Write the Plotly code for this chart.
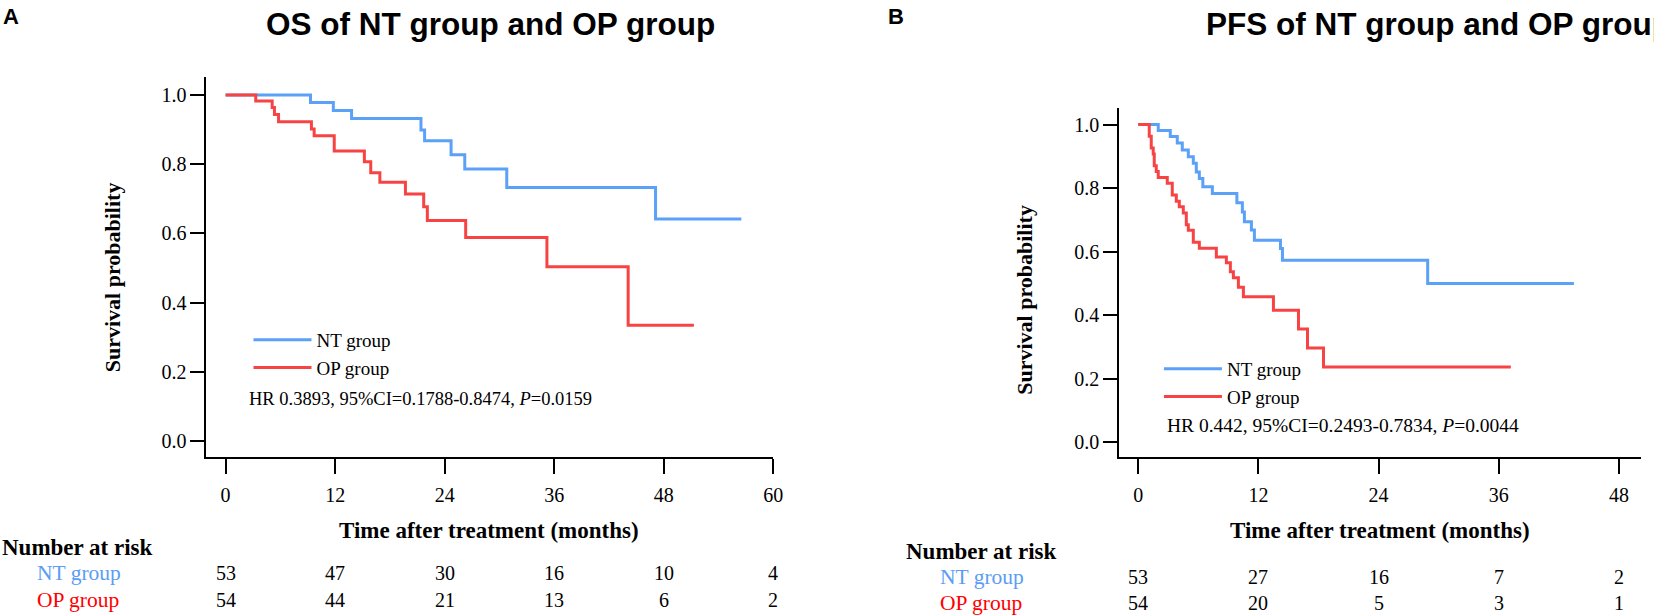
import plotly.graph_objects as go

# Kaplan-Meier steps (months, survival probability)
nt_os_time = [0, 9.3, 11.8, 13.8, 21.4, 21.8, 24.7, 26.2, 30.8, 47.1, 56.5]
nt_os_surv = [1.0, 0.978, 0.955, 0.932, 0.899, 0.868, 0.827, 0.786, 0.733, 0.642, 0.642]
op_os_time = [0, 3.3, 5.1, 5.35, 5.8, 9.4, 9.7, 11.9, 15.2, 15.9, 16.9, 19.7, 21.7, 22.1, 26.3, 35.2, 44.1, 51.3]
op_os_surv = [1.0, 0.983, 0.964, 0.944, 0.923, 0.902, 0.882, 0.838, 0.807, 0.775, 0.748, 0.714, 0.677, 0.637,
              0.588, 0.504, 0.335, 0.335]

nt_pfs_time = [0, 2.0, 3.2, 3.9, 4.4, 5.0, 5.5, 5.8, 6.1, 6.45, 7.4, 9.85, 10.4, 10.6, 11.3, 11.6, 14.2, 14.4,
               28.9, 43.5]
nt_pfs_surv = [1.0, 0.981, 0.962, 0.942, 0.92, 0.899, 0.878, 0.851, 0.83, 0.804, 0.783, 0.754, 0.725, 0.694,
               0.668, 0.636, 0.61, 0.573, 0.5, 0.5]
op_pfs_time = [0, 1.1, 1.3, 1.5, 1.6, 1.8, 2.0, 2.9, 3.4, 3.8, 4.1, 4.5, 4.8, 5.0, 5.5, 6.1, 7.8, 8.8, 9.2, 9.5,
               10.0, 10.5, 13.5, 16.0, 16.9, 18.5, 37.2]
op_pfs_surv = [1.0, 0.963, 0.926, 0.907, 0.87, 0.852, 0.833, 0.815, 0.778, 0.759, 0.741, 0.722, 0.685, 0.667,
               0.63, 0.611, 0.583, 0.565, 0.537, 0.518, 0.488, 0.458, 0.416, 0.357, 0.297, 0.237, 0.237]

# number at risk tables
os_risk_times = [0, 12, 24, 36, 48, 60]
os_risk_nt = [53, 47, 30, 16, 10, 4]
os_risk_op = [54, 44, 21, 13, 6, 2]
pfs_risk_times = [0, 12, 24, 36, 48]
pfs_risk_nt = [53, 27, 16, 7, 2]
pfs_risk_op = [54, 20, 5, 3, 1]

group_names = ["NT group", "OP group"]
os_title = "OS of NT group and OP group"
pfs_title = "PFS of NT group and OP group"
os_hr = "HR 0.3893, 95%CI=0.1788-0.8474, <i>P</i>=0.0159"
pfs_hr = "HR 0.442, 95%CI=0.2493-0.7834, <i>P</i>=0.0044"

W, H = 1654, 616
BLUE = "#5AA1F7"
RED = "#F74343"
SERIF = "Liberation Serif"
SANS = "Liberation Sans"


def px(x):
    return x / W


def py(y):
    return 1 - y / H


fig = go.Figure()

fig.add_trace(go.Scatter(x=nt_os_time, y=nt_os_surv, mode="lines", line=dict(color=BLUE, width=3, shape="hv"),
                         name=group_names[0], xaxis="x", yaxis="y", legend="legend"))
fig.add_trace(go.Scatter(x=op_os_time, y=op_os_surv, mode="lines", line=dict(color=RED, width=3, shape="hv"),
                         name=group_names[1], xaxis="x", yaxis="y", legend="legend"))
fig.add_trace(go.Scatter(x=nt_pfs_time, y=nt_pfs_surv, mode="lines", line=dict(color=BLUE, width=3, shape="hv"),
                         name=group_names[0], xaxis="x2", yaxis="y2", legend="legend2"))
fig.add_trace(go.Scatter(x=op_pfs_time, y=op_pfs_surv, mode="lines", line=dict(color=RED, width=3, shape="hv"),
                         name=group_names[1], xaxis="x2", yaxis="y2", legend="legend2"))

axis_common = dict(showline=True, linecolor="black", linewidth=2, ticks="outside", tickwidth=2,
                   tickcolor="black", showgrid=False, zeroline=False,
                   tickfont=dict(family=SERIF, size=20, color="black"))
legend_common = dict(xanchor="left", yanchor="top", bgcolor="rgba(0,0,0,0)",
                     font=dict(family=SERIF, size=19, color="black"), itemwidth=58, tracegroupgap=0)

fig.update_layout(
    width=W, height=H, autosize=False,
    margin=dict(l=0, r=0, t=0, b=0),
    plot_bgcolor="white", paper_bgcolor="white",
    xaxis=dict(domain=[px(207.7), px(778)], range=[-2.1, 60], tickvals=os_risk_times, ticklen=15,
               ticklabelstandoff=4, anchor="y", **axis_common),
    yaxis=dict(domain=[py(457), py(77)], range=[-0.046, 1.052], dtick=0.2, tickformat=".1f", ticklen=14,
               anchor="x", **axis_common),
    xaxis2=dict(domain=[px(1126), px(1651)], range=[-1.9, 50.2], tickvals=pfs_risk_times, ticklen=15,
                ticklabelstandoff=4, anchor="y2", **axis_common),
    yaxis2=dict(domain=[py(457), py(108)], range=[-0.046, 1.052], dtick=0.2, tickformat=".1f", ticklen=14,
                anchor="x2", **axis_common),
    legend=dict(x=px(250), y=py(321), **legend_common),
    legend2=dict(x=px(1166), y=py(350), **legend_common),
)

ann = []
# panel letters and titles
ann.append(dict(text="<b>A</b>", x=px(1), y=py(16), xanchor="left", font=dict(family=SANS, size=22)))
ann.append(dict(text="<b>B</b>", x=px(891), y=py(16), xanchor="left", font=dict(family=SANS, size=22)))
ann.append(dict(text="<b>" + os_title + "</b>", x=px(493), y=py(24), xanchor="center",
                font=dict(family=SANS, size=31.5)))
ann.append(dict(text="<b>" + pfs_title + "</b>", x=px(1211), y=py(24), xanchor="left",
                font=dict(family=SANS, size=31.5)))
# axis titles
for xc, yc in [(113, 277), (1030, 300)]:
    ann.append(dict(text="<b>Survival probability</b>", x=px(xc), y=py(yc), textangle=-90,
                    font=dict(family=SERIF, size=22)))
for xc in [492, 1388]:
    ann.append(dict(text="<b>Time after treatment (months)</b>", x=px(xc), y=py(530),
                    font=dict(family=SERIF, size=23)))
# HR text
ann.append(dict(text=os_hr, x=px(248), y=py(399), xanchor="left", font=dict(family=SERIF, size=18.5)))
ann.append(dict(text=pfs_hr, x=px(1172), y=py(425), xanchor="left", font=dict(family=SERIF, size=19.5)))

# number at risk tables
for head_x, grp_x, rows_y, xref, times, nt_vals, op_vals in [
    (0, 35, (547, 573, 600), "x", os_risk_times, os_risk_nt, os_risk_op),
    (910, 944, (551, 577, 603), "x2", pfs_risk_times, pfs_risk_nt, pfs_risk_op),
]:
    ann.append(dict(text="<b>Number at risk</b>", x=px(head_x), y=py(rows_y[0]), xanchor="left",
                    font=dict(family=SERIF, size=23)))
    ann.append(dict(text=group_names[0], x=px(grp_x), y=py(rows_y[1]), xanchor="left",
                    font=dict(family=SERIF, size=21.5, color="#5A9CF6")))
    ann.append(dict(text=group_names[1], x=px(grp_x), y=py(rows_y[2]), xanchor="left",
                    font=dict(family=SERIF, size=21.5, color="#FF0000")))
    for t, n1, n2 in zip(times, nt_vals, op_vals):
        ann.append(dict(text=str(n1), x=t, xref=xref, y=py(rows_y[1]), font=dict(family=SERIF, size=20)))
        ann.append(dict(text=str(n2), x=t, xref=xref, y=py(rows_y[2]), font=dict(family=SERIF, size=20)))

for a in ann:
    a.setdefault("xref", "paper")
    a.setdefault("yref", "paper")
    a.setdefault("showarrow", False)
    a.setdefault("xanchor", "center")
    a.setdefault("yanchor", "middle")
    a["font"].setdefault("color", "black")
fig.update_layout(annotations=ann)

# the page body has a default margin and may scroll; pin the figure to the window's corner
fig.write_html(
    "out.html",
    config={"displayModeBar": False, "responsive": False},
    post_script="document.documentElement.style.overflow='hidden';"
                "document.body.style.overflow='hidden';document.body.style.margin='0';",
)
